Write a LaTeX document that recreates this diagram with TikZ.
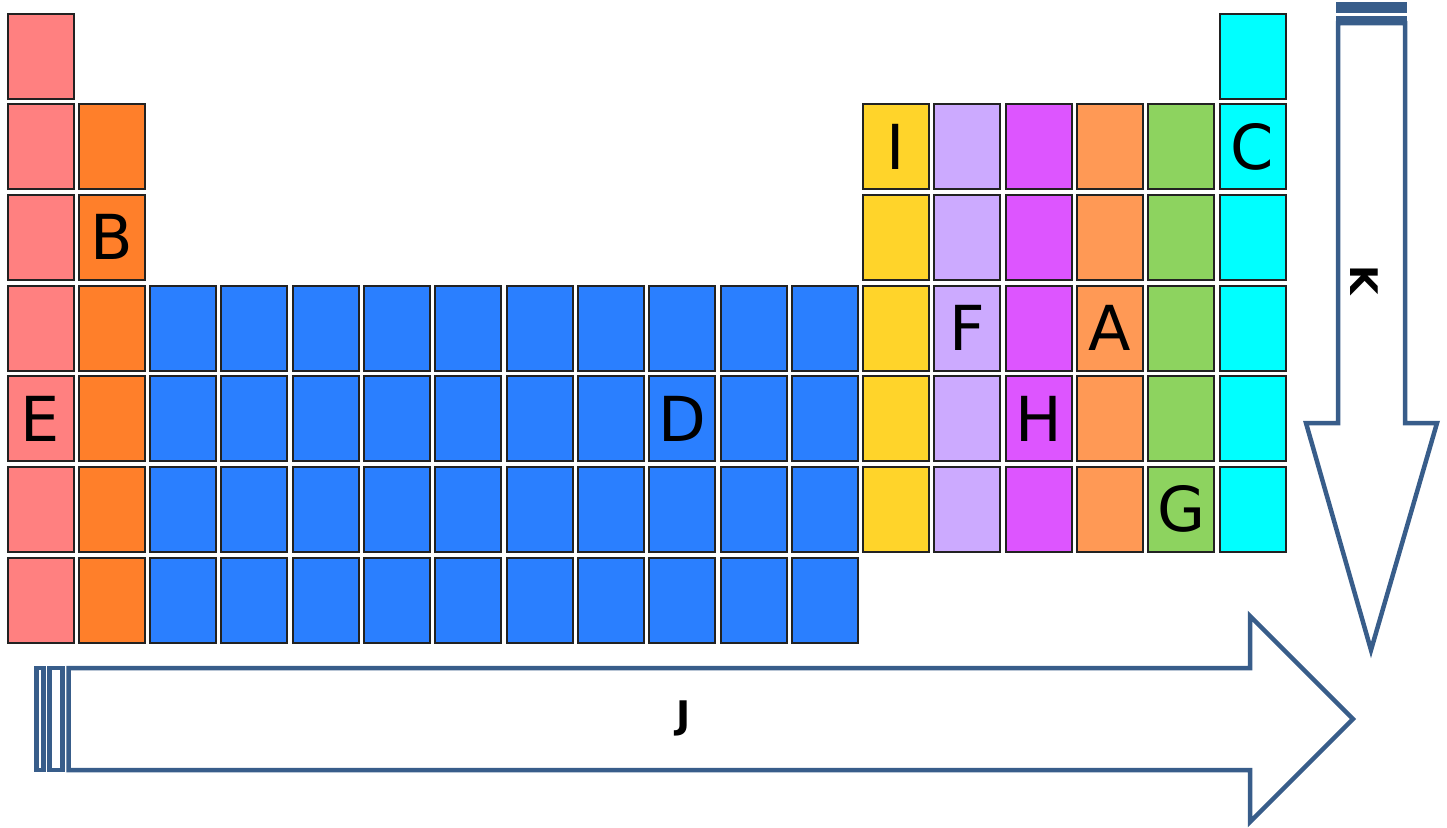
\documentclass[tikz,border=0pt]{standalone}
\usepackage{tikz}
\usepackage{xcolor}
\usepackage{fontspec}
\setmainfont{DejaVu Sans}
\definecolor{PinkCell}{HTML}{FF8080}
\definecolor{OrangeCell}{HTML}{FF7F2A}
\definecolor{BlueCell}{HTML}{2A7FFF}
\definecolor{YellowCell}{HTML}{FFD42A}
\definecolor{LilacCell}{HTML}{CCAAFF}
\definecolor{VioletCell}{HTML}{DD55FF}
\definecolor{PeachCell}{HTML}{FF9955}
\definecolor{GreenCell}{HTML}{8DD35F}
\definecolor{CyanCell}{HTML}{00FFFF}
\definecolor{ArrowBlue}{HTML}{385D8A}
\definecolor{EdgeGray}{HTML}{222222}

\begin{document}
\begin{tikzpicture}[
      x=0.5pt,y=-0.5pt,
      cell/.style={draw=EdgeGray,line width=1pt,minimum width=33pt,minimum height=42.5pt,inner sep=0pt},
      celltext/.style={font=\fontsize{31}{31}\selectfont,inner sep=0pt},
      bigarrow/.style={draw=ArrowBlue,fill=white,line width=2.25pt,line join=miter},
      arrowlabel/.style={font=\fontsize{19}{19}\selectfont\bfseries,inner sep=0pt}
    ]
      \useasboundingbox (0,0) rectangle (1447,827);
      % element columns: column / first row / last row / colour
      \foreach \col/\top/\bot/\fc in {0/0/6/PinkCell,1/1/6/OrangeCell,12/1/5/YellowCell,13/1/5/LilacCell,
          14/1/5/VioletCell,15/1/5/PeachCell,16/1/5/GreenCell,17/0/5/CyanCell}
        \foreach \r in {\top,...,\bot}
          \node[cell,fill=\fc] (cell-\col-\r) at ({40.5+71.3*\col},{56+90.67*\r}) {};
      \foreach \col in {2,...,11}
        \foreach \r in {3,...,6}
          \node[cell,fill=BlueCell] (cell-\col-\r) at ({40.5+71.3*\col},{56+90.67*\r}) {};
      % block letters
      \node[celltext] (lblI) at (cell-12-1) {I};
      \node[celltext] (lblC) at (cell-17-1) {C};
      \node[celltext] (lblB) at (cell-1-2) {B};
      \node[celltext] (lblF) at (cell-13-3) {F};
      \node[celltext] (lblA) at (cell-15-3) {A};
      \node[celltext] (lblE) at (cell-0-4) {E};
      \node[celltext] (lblD) at (cell-9-4) {D};
      \node[celltext] (lblH) at (cell-14-4) {H};
      \node[celltext] (lblG) at (cell-16-5) {G};
      % horizontal arrow J
      \draw[bigarrow] (36.5,668) rectangle (43.5,770);
      \draw[bigarrow] (49.5,668) rectangle (62.5,770);
      \draw[bigarrow] (68.5,668) -- (1250,668) -- (1250,616) -- (1353,719) -- (1250,822) -- (1250,770) -- (68.5,770) -- cycle;
      \node[arrowlabel] (lblJ) at (684,718) {J};
      % vertical arrow K
      \draw[bigarrow,fill=ArrowBlue] (1338,4) rectangle (1405,11);
      \draw[bigarrow,fill=ArrowBlue] (1338,18) rectangle (1405,23);
      \draw[bigarrow] (1338,23) -- (1405,23) -- (1405,423) -- (1437,423) -- (1371,650) -- (1306,423) -- (1338,423) -- cycle;
      \node[arrowlabel,rotate=-90] (lblK) at (1364,280) {K};
    \end{tikzpicture}
\end{document}
